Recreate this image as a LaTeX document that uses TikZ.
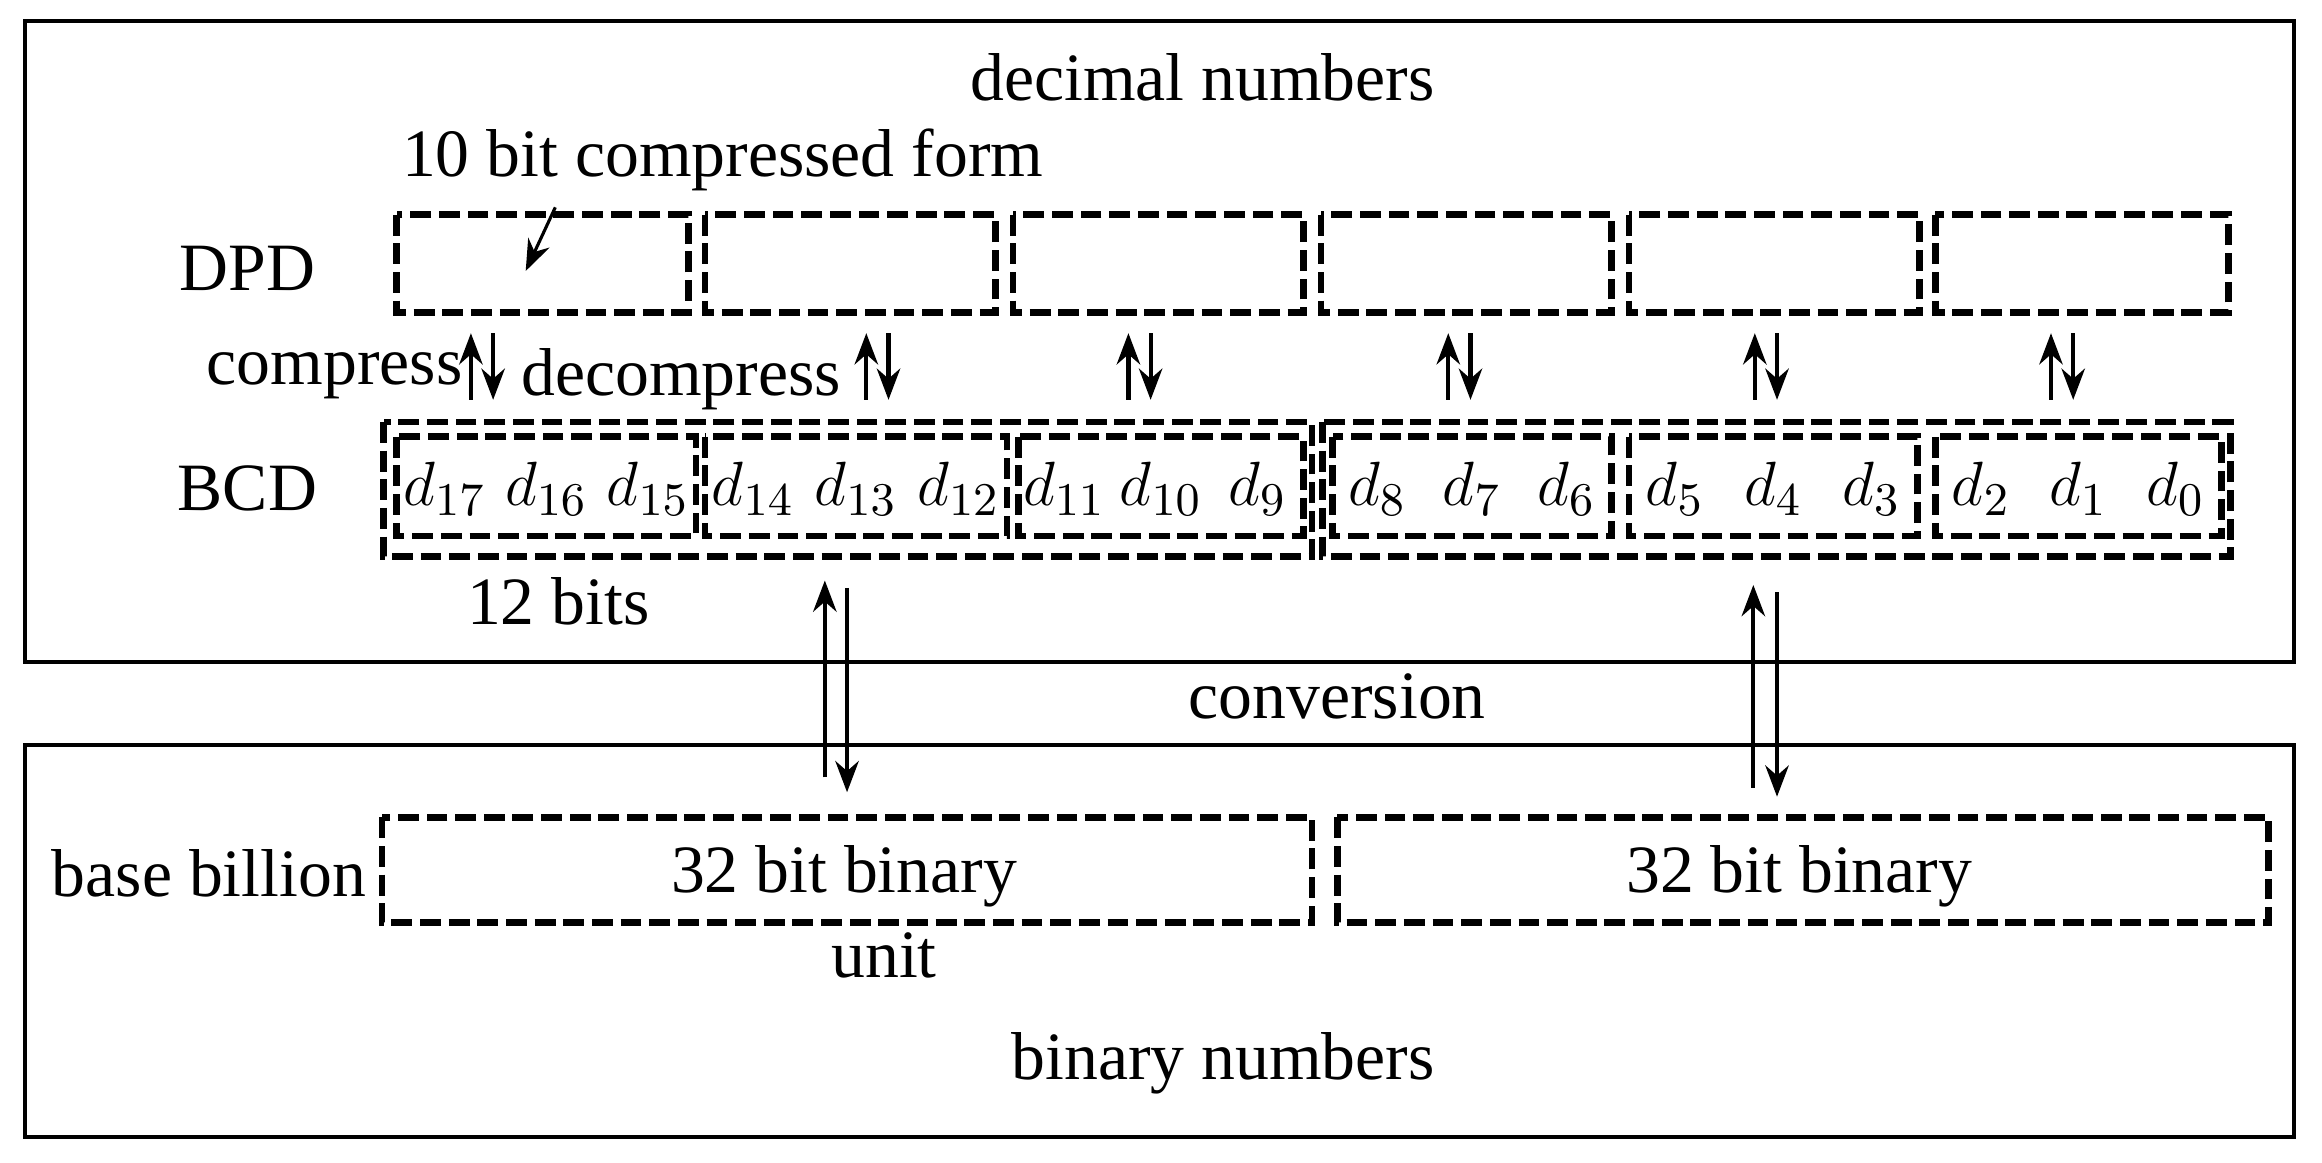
\documentclass[tikz,border=0pt]{standalone}
\usepackage{fontspec}
\setmainfont{Liberation Serif}
\usetikzlibrary{arrows.meta}
\begin{document}
\begin{tikzpicture}[x=0.01cm,y=-0.01cm,
  dbox/.style={draw,line width=1.3pt,dash pattern=on 4pt off 1.5pt},
  frame/.style={draw,line width=0.8pt},
  lab/.style={font=\fontsize{13}{15}\selectfont,inner sep=0pt},
  arr/.style={line width=0.8pt,-{Stealth[length=6pt,width=4.5pt]}}]
\useasboundingbox (0,0) rectangle (1568,785);
\draw[frame] (17,14) rectangle (1549,447);
\draw[frame] (17,503) rectangle (1549,768);
\node[lab] (dec) at (812,52) {decimal numbers};
\node[lab] (tbc) at (488,108) {10 bit compressed form};
\node[lab] (dpd) at (167,181) {DPD};
\node[lab] (bcd) at (167,330) {BCD};
\node[lab] (cmp) at (226,254) {compress};
\node[lab] (dcmp) at (460,256) {decompress};
\node[lab] (tw) at (377,406) {12 bits};
\node[lab] (conv) at (903,470) {conversion};
\node[lab] (bb) at (141,590) {base billion};
\node[lab] (unit) at (597,645) {unit};
\node[lab] (binn) at (826,718) {binary numbers};
% DPD boxes
\foreach \a/\b in {268/465,476/672,684/880,892/1088,1100/1296,1307/1505}{
  \draw[dbox] (\a,145) rectangle (\b,211);
}
\coordinate (ta) at (375,140);
\coordinate (tb) at (355,183);
\draw[arr,line width=0.6pt] (ta) -- (tb);
% BCD
\draw[dbox] (259,285) rectangle (886,376);
\draw[dbox] (893,285) rectangle (1506,376);
\foreach \a/\b/\i/\j/\k in {268/470/17/16/15,476/680/14/13/12,688/880/11/10/9,900/1088/8/7/6,1100/1295/5/4/3,1307/1500/2/1/0}{
  \draw[dbox] (\a,295) rectangle (\b,362);
  \node[lab] at ({\a+0.16*(\b-\a)},330) {$d_{\i}$};
  \node[lab] at ({\a+0.5*(\b-\a)},330) {$d_{\j}$};
  \node[lab] at ({\a+0.84*(\b-\a)},330) {$d_{\k}$};
}
\foreach \x in {318,585,762,978,1185,1385}{
  \coordinate (u1) at (\x,270); \coordinate (u2) at (\x,225);
  \coordinate (v1) at (\x+15,225); \coordinate (v2) at (\x+15,270);
  \draw[arr] (u1) -- (u2);
  \draw[arr] (v1) -- (v2);
}
% conversion arrows
\coordinate (c1) at (557,525); \coordinate (c2) at (557,392);
\coordinate (c3) at (572,397); \coordinate (c4) at (572,535);
\coordinate (c5) at (1184,532); \coordinate (c6) at (1184,395);
\coordinate (c7) at (1200,400); \coordinate (c8) at (1200,538);
\draw[arr] (c1) -- (c2); \draw[arr] (c3) -- (c4);
\draw[arr] (c5) -- (c6); \draw[arr] (c7) -- (c8);
% binary boxes
\draw[dbox] (258,552) rectangle (886,623);
\draw[dbox] (903,552) rectangle (1532,623);
\node[lab] (b1) at (570,592) {32 bit binary};
\node[lab] (b2) at (1215,592) {32 bit binary};
\end{tikzpicture}
\end{document}
